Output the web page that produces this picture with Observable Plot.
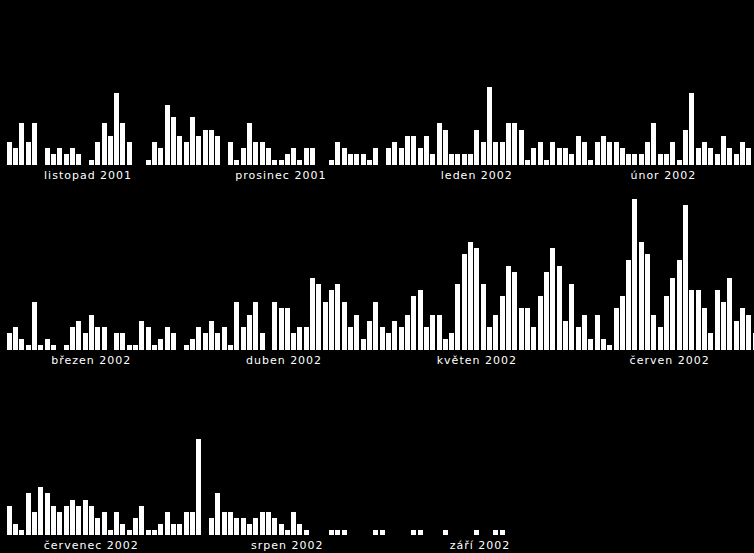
<!DOCTYPE html>
<html>
<head>
<meta charset="utf-8">
<script src="https://cdn.jsdelivr.net/npm/d3@7"></script>
<script src="https://cdn.jsdelivr.net/npm/@observablehq/plot@0.6"></script>
<style>
  html, body { margin: 0; padding: 0; background: #000; overflow: hidden; }
  #chart svg { display: block; }
</style>
</head>
<body>
<div id="chart"></div>
<script>
// Month labels (Czech) and their lengths in days
const monthLabels = ["listopad 2001", "prosinec 2001", "leden 2002", "únor 2002",
                     "březen 2002", "duben 2002", "květen 2002", "červen 2002",
                     "červenec 2002", "srpen 2002", "září 2002"];
const monthLengths = [30, 31, 31, 28, 31, 30, 31, 30, 31, 31, 30];
const monthsPerRow = 4;

// Daily counts, one array per row (index = day since the row's first month start)
const row1Values = [
  4,3,7,4,7,0,3,2,3,2, 3,2,0,1,4,7,5,12,7,4, 0,0,1,4,3,10,8,5,4,8,
  5,6,6,5,0,4,1,3,7,4, 4,3,1,1,2,3,1,3,3,0, 0,1,4,3,2,2,2,1,3,0, 3,
  4,3,5,5,3,5,2,7,6,2, 2,2,2,6,4,13,4,4,7,7, 6,1,3,4,1,4,3,3,2,5, 4,
  1,4,5,4,4,3,2,2,2,4, 7,2,2,4,1,6,12,3,4,3, 2,5,3,2,4,3
];
const row2Values = [
  3,4,2,1,8,1,2,1,0,1, 4,5,3,6,4,4,0,3,3,1, 1,5,4,1,2,4,3,0,1,2, 4,
  3,5,3,4,1,8,4,6,8,3, 0,8,7,7,3,4,4,12,11,8, 10,11,8,4,6,2,5,8,4,3,
  5,4,6,9,10,4,6,6,2,3, 11,16,18,17,11,4,6,9,14,13, 7,7,4,9,13,17,14,5,11,4, 6,
  2,6,2,1,7,9,15,25,18,16, 6,4,9,12,15,24,10,10,7,3, 10,8,12,5,7,6,3
];
const row3Values = [
  5,2,1,7,4,8,7,5,4,5, 6,5,6,5,3,4,1,4,2,1, 3,5,1,1,2,4,2,2,4,4, 16,
  0,3,7,4,4,3,3,2,3,4, 4,3,2,1,4,2,1,0,0,0, 1,1,1,0,0,0,0,1,1,0, 0,
  0,0,1,1,0,0,0,1,0,0, 0,0,1,0,0,1,1
];

const rows = [row1Values, row2Values, row3Values];
const bars = rows.flatMap((vals, r) => vals.map((v, day) => ({row: r, day, v}))).filter(d => d.v > 0);

const labels = [];
monthLabels.forEach((label, m) => {
  const row = Math.floor(m / monthsPerRow);
  let start = 0;
  for (let k = row * monthsPerRow; k < m; k++) start += monthLengths[k];
  labels.push({row, start, length: monthLengths[m], label});
});

const pitch = 6.321;
const chart = Plot.plot({
  width: 754,
  height: 553,
  marginTop: 0, marginBottom: 0, marginLeft: 0, marginRight: 0,
  style: {background: "black", color: "white", fontFamily: "'DejaVu Sans', sans-serif",
          fontSize: "11px", letterSpacing: "1px", overflow: "hidden"},
  x: {type: "linear", domain: [0, 122], range: [6.04, 6.04 + 122 * pitch], axis: null},
  y: {domain: [0, 25], range: [166, 166 - 25 * 6.08], axis: null},
  fy: {domain: [0, 1, 2], paddingInner: 0.011, paddingOuter: 0, axis: null},
  marks: [
    Plot.rect(bars, {x1: "day", x2: d => d.day + 1, y1: 0, y2: "v", fy: "row",
                     fill: "white", insetLeft: 0.66, insetRight: 0.66, insetBottom: 1,
                     shapeRendering: "crispEdges"}),
    Plot.text(labels, {x: d => d.start + d.length / 2 - 2.1, fy: "row", text: "label",
                       frameAnchor: "bottom", lineAnchor: "bottom", dy: -5,
                       fill: "white", fontSize: 11, textAnchor: "middle"})
  ]
});
document.getElementById("chart").appendChild(chart);
</script>
</body>
</html>
